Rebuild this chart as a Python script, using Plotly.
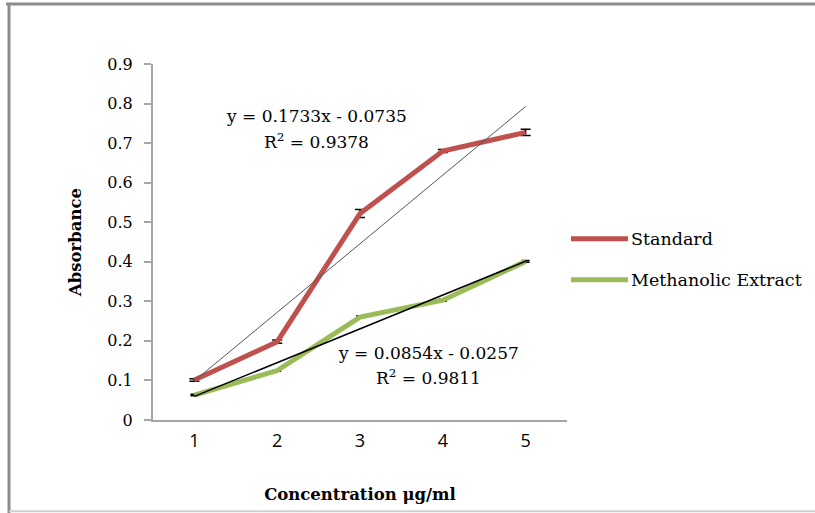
import plotly.graph_objects as go
import numpy as np

concentration = [1, 2, 3, 4, 5]
standard = [0.101, 0.198, 0.522, 0.680, 0.727]
standard_err = [0.003, 0.004, 0.010, 0.004, 0.008]
methanolic = [0.063, 0.125, 0.260, 0.303, 0.401]
methanolic_err = [0.002, 0.002, 0.003, 0.003, 0.002]
y_ticks = [0, 0.1, 0.2, 0.3, 0.4, 0.5, 0.6, 0.7, 0.8, 0.9]
series_names = ["Standard", "Methanolic Extract"]
series_colors = ["#C0504D", "#9BBB59"]

std_fit = np.polyfit(concentration, standard, 1)
met_fit = np.polyfit(concentration, methanolic, 1)
xs = np.array(concentration, dtype=float)

W, H = 815, 513
L, R, T, B = 153, 567, 64, 420.5

def px(x):
    return (x - L) / (R - L)

def py(y):
    return (B - y) / (B - T)

serif = "DejaVu Serif"

fig = go.Figure()
fig.add_trace(go.Scatter(
    x=concentration, y=standard, mode="lines", name=series_names[0], showlegend=False,
    line=dict(color=series_colors[0], width=5),
    error_y=dict(type="data", array=standard_err, color="black", thickness=1.5, width=5),
))
fig.add_trace(go.Scatter(
    x=concentration, y=methanolic, mode="lines", name=series_names[1], showlegend=False,
    line=dict(color=series_colors[1], width=5),
    error_y=dict(type="data", array=methanolic_err, color="black", thickness=1.5, width=4),
))
fig.add_trace(go.Scatter(
    x=xs, y=np.polyval(std_fit, xs), mode="lines", showlegend=False,
    line=dict(color="#555555", width=1), hoverinfo="skip",
))
fig.add_trace(go.Scatter(
    x=xs, y=np.polyval(met_fit, xs), mode="lines", showlegend=False,
    line=dict(color="black", width=1.5), hoverinfo="skip",
))

anno_font = dict(family=serif, size=17, color="black")
annotations = [
    dict(x=px(316), y=py(104), xref="paper", yref="paper", showarrow=False,
         text="y = 0.1733x - 0.0735", font=anno_font),
    dict(x=px(316), y=py(128), xref="paper", yref="paper", showarrow=False,
         text="R<sup>2</sup> = 0.9378", font=anno_font),
    dict(x=px(428), y=py(365), xref="paper", yref="paper", showarrow=False,
         text="y = 0.0854x - 0.0257", font=anno_font),
    dict(x=px(428), y=py(390), xref="paper", yref="paper", showarrow=False,
         text="R<sup>2</sup> = 0.9811", font=anno_font),
]
shapes = [
    dict(type="line", xref="paper", yref="paper", x0=px(6), x1=px(820), y0=py(4), y1=py(4),
         line=dict(color="#8C8C8C", width=3)),
    dict(type="line", xref="paper", yref="paper", x0=px(9), x1=px(9), y0=py(3), y1=py(515),
         line=dict(color="#8C8C8C", width=3)),
    dict(type="line", xref="paper", yref="paper", x0=px(9), x1=px(820), y0=py(512), y1=py(512),
         line=dict(color="#D0D0D0", width=2)),
]
for i, (name, col) in enumerate(zip(series_names, series_colors)):
    yy = 239 + 41 * i
    shapes.append(dict(type="line", xref="paper", yref="paper", x0=px(571), x1=px(628),
                       y0=py(yy), y1=py(yy), line=dict(color=col, width=5)))
    annotations.append(dict(x=px(629), y=py(yy), xref="paper", yref="paper", showarrow=False,
                            xanchor="left", yanchor="middle", text=name,
                            font=dict(family=serif, size=17.5, color="black")))

fig.update_layout(
    width=W, height=H,
    margin=dict(l=L, r=W - R, t=T, b=H - B, pad=0),
    plot_bgcolor="white", paper_bgcolor="white",
    showlegend=False,
    xaxis=dict(
        range=[0.5, 5.5], tickmode="array", tickvals=concentration,
        ticktext=[str(c) for c in concentration],
        showgrid=False, zeroline=False, showline=True, linecolor="#A6A6A6", linewidth=2,
        ticks="", tickfont=dict(family="Open Sans", size=18, color="black"),
        ticklabelstandoff=3,
        title=dict(text="<b>Concentration μg/ml</b>", font=dict(family=serif, size=16.5, color="black"), standoff=38),
    ),
    yaxis=dict(
        range=[0, 0.9], tickmode="array", tickvals=y_ticks,
        ticktext=["0" if t == 0 else f"{t:.1f}" for t in y_ticks],
        showgrid=False, zeroline=False, showline=True, linecolor="#A6A6A6", linewidth=2,
        ticks="outside", ticklen=7, tickcolor="#A6A6A6", tickwidth=1.5,
        tickfont=dict(family=serif, size=16, color="black"),
        ticklabelstandoff=8,
        title=dict(text="<b>Absorbance</b>", font=dict(family=serif, size=16.5, color="black"), standoff=22),
    ),
    annotations=annotations,
    shapes=shapes,
)

fig.write_html("out.html")
